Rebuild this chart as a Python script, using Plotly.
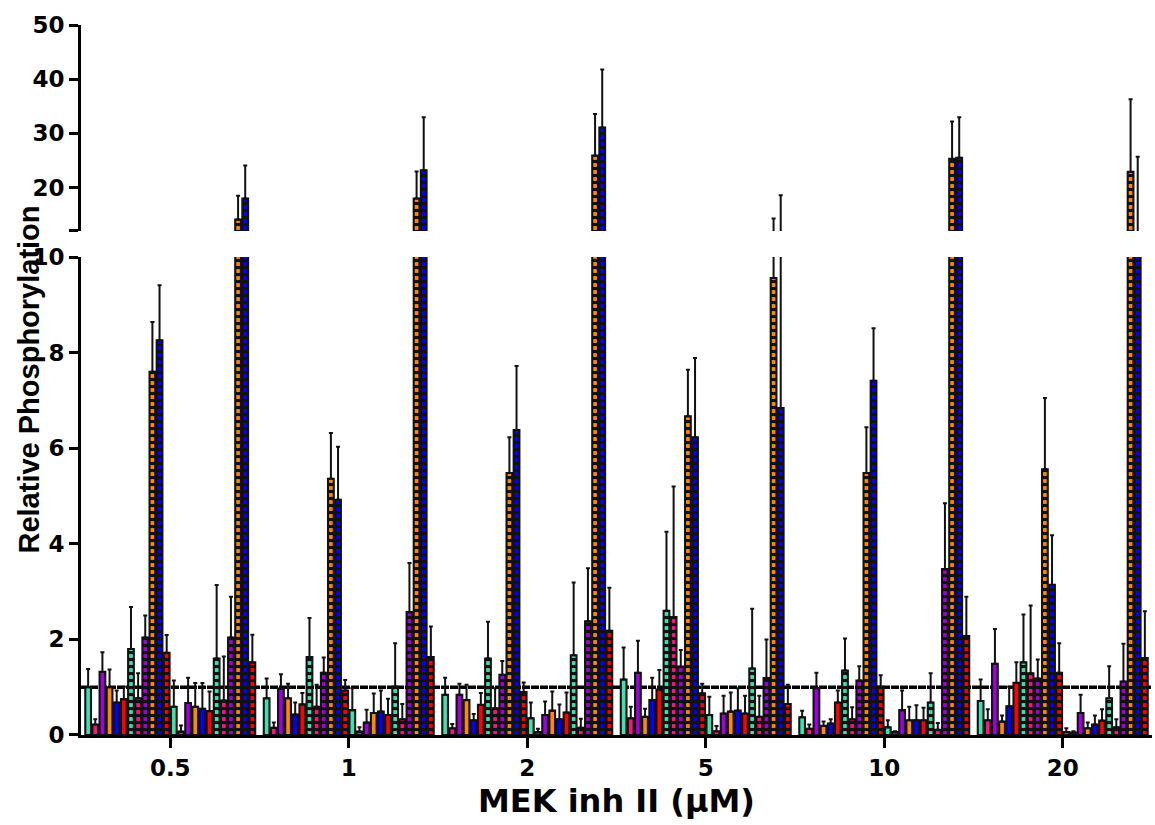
import plotly.graph_objects as go

categories = ['0.5', '1', '2', '5', '10', '20']

# ---- first cluster (A) in each concentration: plain bars ----
A_teal = [1.00, 0.77, 0.84, 1.16, 0.37, 0.71]
A_teal_err = [0.38, 0.41, 0.36, 0.67, 0.14, 0.45]
A_pink = [0.22, 0.15, 0.14, 0.35, 0.13, 0.31]
A_pink_err = [0.11, 0.11, 0.09, 0.24, 0.09, 0.23]
A_purple = [1.32, 0.97, 0.84, 1.30, 0.98, 1.49]
A_purple_err = [0.41, 0.30, 0.23, 0.67, 0.32, 0.73]
A_orange = [1.00, 0.77, 0.73, 0.38, 0.19, 0.28]
A_orange_err = [0.37, 0.30, 0.32, 0.17, 0.09, 0.13]
A_blue = [0.68, 0.43, 0.31, 0.73, 0.24, 0.60]
A_blue_err = [0.25, 0.25, 0.13, 0.47, 0.09, 0.41]
A_red = [0.75, 0.64, 0.63, 0.95, 0.68, 1.09]
A_red_err = [0.26, 0.24, 0.25, 0.41, 0.25, 0.43]
# ---- cluster A: patterned bars ----
A_teal_d = [1.80, 1.63, 1.60, 2.60, 1.35, 1.52]
A_teal_d_err = [0.88, 0.82, 0.77, 1.65, 0.67, 1.00]
A_pink_d = [0.77, 0.59, 0.56, 2.47, 0.33, 1.29]
A_pink_d_err = [0.52, 0.46, 0.42, 2.73, 0.25, 1.42]
A_purple_d = [2.04, 1.30, 1.26, 1.43, 1.14, 1.18]
A_purple_d_err = [0.46, 0.32, 0.29, 0.35, 0.30, 0.40]
A_orange_d = [7.60, 5.36, 5.48, 6.67, 5.48, 5.56]
A_orange_d_err = [1.04, 0.96, 0.75, 0.97, 0.96, 1.49]
A_blue_d = [8.26, 4.92, 6.38, 6.23, 7.41, 3.14]
A_blue_d_err = [1.15, 1.11, 1.34, 1.66, 1.10, 1.04]
A_red_d = [1.72, 0.93, 0.90, 0.87, 1.01, 1.30]
A_red_d_err = [0.37, 0.22, 0.20, 0.20, 0.24, 0.62]

# ---- second cluster (B): plain bars ----
B_teal = [0.59, 0.52, 0.35, 0.42, 0.16, 0.06]
B_teal_err = [0.55, 0.46, 0.33, 0.38, 0.15, 0.08]
B_pink = [0.07, 0.07, 0.06, 0.08, 0.06, 0.05]
B_pink_err = [0.13, 0.09, 0.07, 0.11, 0.02, 0.03]
B_purple = [0.67, 0.26, 0.42, 0.45, 0.52, 0.46]
B_purple_err = [0.53, 0.27, 0.28, 0.37, 0.41, 0.38]
B_orange = [0.59, 0.46, 0.51, 0.49, 0.31, 0.14]
B_orange_err = [0.50, 0.41, 0.40, 0.40, 0.28, 0.12]
B_blue = [0.55, 0.49, 0.33, 0.51, 0.31, 0.22]
B_blue_err = [0.54, 0.44, 0.31, 0.47, 0.31, 0.19]
B_red = [0.50, 0.42, 0.47, 0.45, 0.31, 0.30]
B_red_err = [0.41, 0.34, 0.42, 0.37, 0.26, 0.24]
# ---- cluster B: patterned bars ----
B_teal_d = [1.60, 1.01, 1.67, 1.39, 0.68, 0.77]
B_teal_d_err = [1.54, 0.91, 1.52, 1.25, 0.61, 0.67]
B_pink_d = [0.72, 0.33, 0.15, 0.38, 0.11, 0.16]
B_pink_d_err = [0.92, 0.32, 0.19, 0.44, 0.14, 0.17]
B_purple_d = [2.04, 2.57, 2.38, 1.19, 3.47, 1.12]
B_purple_d_err = [0.85, 1.03, 1.11, 0.81, 1.38, 0.79]
B_orange_d = [14.1, 18.0, 25.9, 9.56, 25.3, 22.9]
B_orange_d_err = [4.4, 4.96, 7.7, 4.74, 6.9, 13.4]
B_blue_d = [18.0, 23.2, 31.1, 6.84, 25.5, 11.0]
B_blue_d_err = [6.1, 9.8, 10.7, 11.76, 7.5, 14.7]
B_red_d = [1.52, 1.63, 2.18, 0.65, 2.07, 1.61]
B_red_d_err = [0.58, 0.64, 0.90, 0.40, 0.82, 0.98]

TEAL, PINK, PURPLE, ORANGE, BLUE, RED = '#40E0B0', '#F5167E', '#A000DC', '#FF8A00', '#0000FF', '#FF0000'

series = [
    (A_teal, A_teal_err, TEAL, False), (A_pink, A_pink_err, PINK, False),
    (A_purple, A_purple_err, PURPLE, False), (A_orange, A_orange_err, ORANGE, False),
    (A_blue, A_blue_err, BLUE, False), (A_red, A_red_err, RED, False),
    (A_teal_d, A_teal_d_err, TEAL, True), (A_pink_d, A_pink_d_err, PINK, True),
    (A_purple_d, A_purple_d_err, PURPLE, True), (A_orange_d, A_orange_d_err, ORANGE, True),
    (A_blue_d, A_blue_d_err, BLUE, True), (A_red_d, A_red_d_err, RED, True),
    (B_teal, B_teal_err, TEAL, False), (B_pink, B_pink_err, PINK, False),
    (B_purple, B_purple_err, PURPLE, False), (B_orange, B_orange_err, ORANGE, False),
    (B_blue, B_blue_err, BLUE, False), (B_red, B_red_err, RED, False),
    (B_teal_d, B_teal_d_err, TEAL, True), (B_pink_d, B_pink_d_err, PINK, True),
    (B_purple_d, B_purple_d_err, PURPLE, True), (B_orange_d, B_orange_d_err, ORANGE, True),
    (B_blue_d, B_blue_d_err, BLUE, True), (B_red_d, B_red_d_err, RED, True),
]

fig = go.Figure()
for yax in ['y', 'y2']:
    for vals, errs, col, dashed in series:
        marker = dict(color=col, line=dict(color='#111111', width=2.1))
        if dashed:
            marker['pattern'] = dict(shape='-', fgcolor='#111111', bgcolor=col,
                                     size=7, solidity=0.45, fillmode='replace')
        fig.add_trace(go.Bar(
            x=categories, y=vals, xaxis='x', yaxis=yax, marker=marker,
            error_y=dict(type='data', symmetric=False, array=errs,
                         arrayminus=[0] * len(errs), color='#111111',
                         thickness=2, width=2),
            showlegend=False, hoverinfo='y'))

FONT = "'DejaVu Sans', Arial, sans-serif"
ARIAL = "Arial, 'Liberation Sans', sans-serif"
TICKFONT = dict(family=FONT, size=23, color='black', weight='bold')


def axis_style(ticklen):
    return dict(showline=True, linewidth=3, linecolor='black', ticks='outside',
                ticklen=ticklen, tickwidth=3, tickcolor='black', showgrid=False,
                zeroline=False, tickfont=TICKFONT)


fig.update_layout(
    width=1155, height=825,
    margin=dict(l=81, r=3, t=25, b=90),
    paper_bgcolor='white', plot_bgcolor='white',
    barmode='group', bargap=0.04, bargroupgap=0.2,
    xaxis=dict(type='category', domain=[0, 1], anchor='y', **axis_style(10)),
    yaxis=dict(domain=[0, 0.6732], range=[0, 10], tickvals=[0, 2, 4, 6, 8, 10],
               anchor='x', **axis_style(9)),
    yaxis2=dict(domain=[0.7099, 1], range=[12, 50], tickvals=[12, 20, 30, 40, 50],
                ticktext=['', '20', '30', '40', '50'], anchor='x', **axis_style(9)),
    shapes=[dict(type='line', xref='paper', x0=0, x1=1, yref='y', y0=1, y1=1,
                 line=dict(color='black', width=3.5, dash='8px,1px'), layer='below')],
    annotations=[
        dict(text='Relative Phosphorylation', xref='paper', yref='paper',
             x=-0.049, y=0.5, textangle=-90, showarrow=False,
             xanchor='center', yanchor='middle',
             font=dict(family=ARIAL, size=29, color='black', weight='bold')),
        dict(text='MEK inh II (μM)', xref='paper', yref='paper',
             x=0.5, y=-0.0935, showarrow=False, xanchor='center', yanchor='middle',
             font=dict(family=FONT, size=32, color='black', weight='bold')),
    ],
)

fig.write_html('out.html')
